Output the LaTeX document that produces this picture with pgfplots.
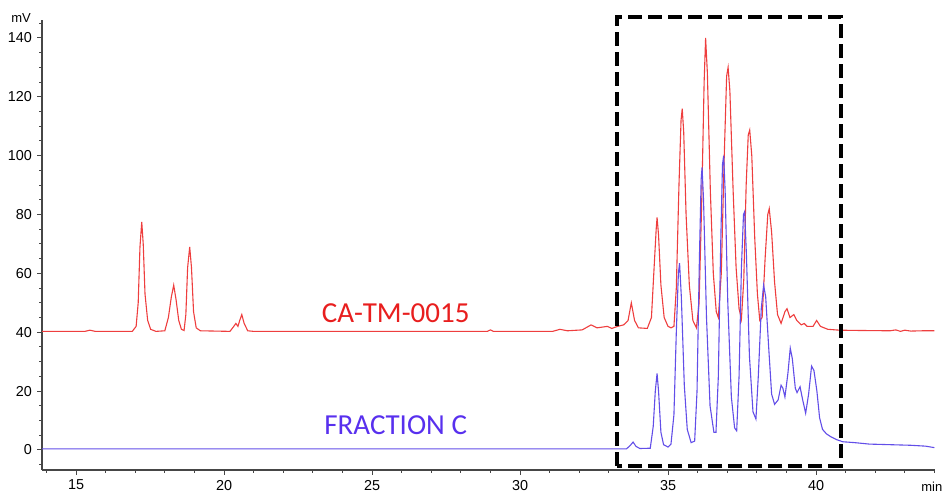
\documentclass[border=0pt]{standalone}
\usepackage{pgfplots}
\pgfplotsset{compat=1.18}
\usepackage{fontspec}
\setmainfont{Liberation Sans}
\newfontfamily\labelfont{Carlito}
\definecolor{tracered}{RGB}{238,62,62}
\definecolor{traceblue}{RGB}{98,78,232}
\definecolor{txtred}{RGB}{232,30,30}
\definecolor{txtblue}{RGB}{88,48,238}
\definecolor{axgray}{RGB}{70,70,70}
\begin{document}
\begin{tikzpicture}
\useasboundingbox (0,0) rectangle (472pt,246pt);
\begin{axis}[
  at={(21pt,11pt)}, anchor=south west,
  scale only axis, width=446.5pt, height=225pt,
  xmin=13.85, xmax=44.02, ymin=-6.8, ymax=146.1,
  axis x line*=bottom, axis y line*=left,
  axis line style={axgray, line width=0.6pt},
  xtick={15,20,25,30,35,40},
  minor xtick={14,16,17,18,19,21,22,23,24,26,27,28,29,31,32,33,34,36,37,38,39,41,42,43,44},
  ytick={0,20,40,60,80,100,120,140},
  minor ytick={-5,5,10,15,25,30,35,45,50,55,65,70,75,85,90,95,105,110,115,125,130,135,145},
  tick align=outside,
  major tick length=2.5pt, minor tick length=1.5pt,
  tick style={axgray, line width=0.5pt},
  ticklabel style={font=\fontsize{7.2}{8}\selectfont, text=black},
  /pgf/number format/assume math mode=true,
  xticklabel style={yshift=1pt},
  yticklabel style={xshift=1pt},
  clip=false,
]
\addplot[tracered, line width=0.55pt] coordinates {
(13.85,40.3) (15.3,40.3) (15.47,40.7) (15.65,40.3) (16.9,40.3) (17.03,42) (17.1,50) (17.16,69) (17.22,77.5) (17.27,70) (17.33,53) (17.42,44) (17.52,41) (17.7,40.3)
(18.0,40.5) (18.12,45) (18.22,52) (18.3,56) (18.38,51) (18.47,44) (18.56,41) (18.65,40.6) (18.71,46) (18.77,62) (18.84,69) (18.9,62) (18.97,47) (19.06,41.5) (19.2,40.5)
(20.2,40.3) (20.33,42) (20.4,43) (20.47,42) (20.53,44) (20.6,46) (20.68,43) (20.8,40.5) (21,40.3)
(28.9,40.3) (29,40.8) (29.1,40.3) (31.1,40.3) (31.35,41) (31.6,40.5) (32.1,40.8) (32.4,42.5) (32.6,41.5) (32.95,42) (33.1,41.3) (33.3,42) (33.5,42.5) (33.65,44) (33.76,50) (33.87,44) (34.0,41.5)
(34.3,41.3) (34.44,45) (34.53,62) (34.6,75) (34.63,79) (34.68,73) (34.76,56) (34.87,45) (35,42) (35.1,41.5) (35.2,42)
(35.28,55) (35.37,90) (35.44,112) (35.48,116) (35.53,108) (35.61,80) (35.72,56) (35.84,44) (35.96,41.5)
(36.05,50) (36.14,85) (36.22,125) (36.27,140) (36.33,128) (36.43,88) (36.53,60) (36.63,47) (36.7,45)
(36.8,60) (36.9,100) (36.98,127) (37.03,130) (37.09,122) (37.2,88) (37.3,62) (37.4,48) (37.48,44.5)
(37.56,58) (37.64,90) (37.71,107) (37.76,108.7) (37.83,100) (37.93,72) (38.02,53) (38.1,44) (38.18,45)
(38.28,65) (38.37,80) (38.42,82) (38.5,74) (38.6,57) (38.7,46) (38.82,43) (38.95,47) (39.02,48) (39.12,45) (39.25,46) (39.35,44) (39.5,42.5) (39.6,43) (39.7,42) (39.9,42) (40.02,44) (40.15,42) (40.4,41) (40.8,40.7)
(41.5,40.6) (42.5,40.5) (42.7,40.8) (42.85,40.3) (43,40.7) (43.2,40.4) (43.6,40.5) (44,40.5)
};
\addplot[traceblue, line width=0.55pt] coordinates {
(13.85,0.4) (33.6,0.4) (33.72,1.5) (33.82,2.7) (33.92,1.2) (34.05,0.5) (34.4,0.6) (34.5,8) (34.57,20) (34.63,26) (34.68,20) (34.76,6) (34.85,1.8) (35.0,1) (35.1,2)
(35.2,12) (35.28,40) (35.35,60) (35.39,63.5) (35.45,52) (35.55,22) (35.65,7) (35.78,2.5) (35.9,3)
(35.98,20) (36.06,65) (36.12,92) (36.15,96) (36.2,85) (36.3,45) (36.42,15) (36.55,6) (36.62,6)
(36.7,25) (36.78,70) (36.84,97) (36.88,100) (36.93,88) (37.02,50) (37.14,18) (37.25,7.5) (37.32,6.5)
(37.4,25) (37.48,62) (37.55,80) (37.59,81) (37.65,66) (37.75,32) (37.87,13) (37.97,10.5)
(38.05,25) (38.15,48) (38.23,56) (38.3,52) (38.4,35) (38.5,19) (38.6,15.5) (38.72,17) (38.82,22) (38.88,21) (38.95,18)
(39.05,26) (39.13,34.6) (39.2,31) (39.3,21) (39.36,19.5) (39.46,21.5) (39.55,17) (39.65,12.5) (39.75,19) (39.85,28.5) (39.93,27) (40.03,20) (40.12,11) (40.22,7) (40.35,5.5) (40.5,4.5) (40.7,3.5) (40.9,2.8)
(41.3,2.5) (41.8,2) (42.5,1.8) (43.2,1.6) (43.7,1.3) (44,0.8)
};
\draw[black, line width=2pt, dash pattern=on 7pt off 3pt] (axis cs:33.28,-5.4) rectangle (axis cs:40.84,147.1);
\node[text=txtred, font=\labelfont\fontsize{14.5}{16}\selectfont] at (axis cs:25.8,46.5) {CA-TM-0015};
\node[text=txtblue, font=\labelfont\fontsize{14.5}{16}\selectfont] at (axis cs:25.8,8.5) {FRACTION C};
\node[font=\fontsize{6.5}{7}\selectfont] at (rel axis cs:-0.0235,1.005) {mV};
\node[font=\fontsize{6.5}{7}\selectfont] at (rel axis cs:0.9965,-0.038) {min};
\end{axis}
\end{tikzpicture}
\end{document}
